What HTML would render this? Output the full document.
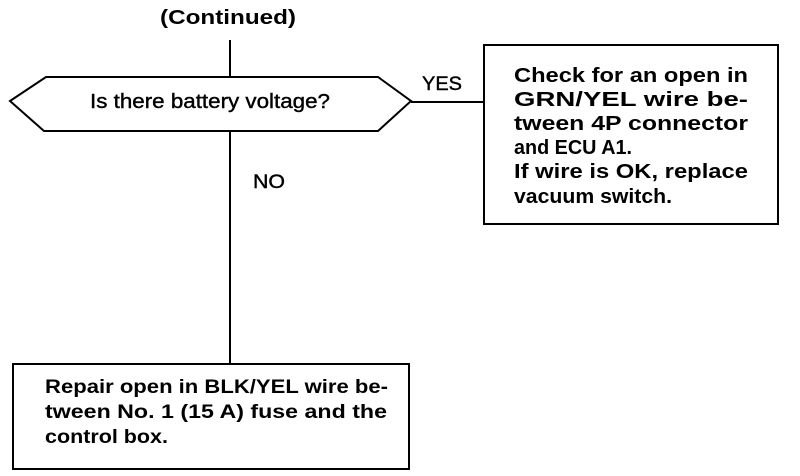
<!DOCTYPE html>
<html><head><style>
body{margin:0;background:#fff}
svg{display:block}
text{font-family:"Liberation Sans",Arial,sans-serif;font-weight:bold;fill:#000}
text.n{font-weight:normal}
</style></head><body>
<svg width="800" height="476" viewBox="0 0 800 476" xmlns="http://www.w3.org/2000/svg">
<g stroke="#000" stroke-width="2" fill="none">
<line x1="230" y1="40" x2="230" y2="77"/>
<line x1="230" y1="131" x2="230" y2="364"/>
<polygon points="10,101 46,77 378,77 411,101 378,131 44,131"/>
<line x1="411" y1="102" x2="484" y2="102"/>
<rect x="484" y="45" width="294" height="179"/>
<rect x="13" y="364" width="396" height="105"/>
</g>
<text x="160" y="24" font-size="20" textLength="136" lengthAdjust="spacingAndGlyphs">(Continued)</text>
<text class="n" x="90" y="108" font-size="20" textLength="240" lengthAdjust="spacingAndGlyphs" stroke="#000" stroke-width="0.4">Is there battery voltage?</text>
<text class="n" x="422" y="90" font-size="19" textLength="40" lengthAdjust="spacingAndGlyphs" stroke="#000" stroke-width="0.4">YES</text>
<text class="n" x="253" y="188" font-size="19" textLength="32" lengthAdjust="spacingAndGlyphs" stroke="#000" stroke-width="0.4">NO</text>
<g font-size="20">
<text x="514" y="82" textLength="234" lengthAdjust="spacingAndGlyphs">Check for an open in</text>
<text x="514" y="106" textLength="234" lengthAdjust="spacingAndGlyphs">GRN/YEL    wire    be-</text>
<text x="514" y="130" textLength="234" lengthAdjust="spacingAndGlyphs">tween   4P   connector</text>
<text x="514" y="154" textLength="118" lengthAdjust="spacingAndGlyphs">and ECU A1.</text>
<text x="514" y="178" textLength="234" lengthAdjust="spacingAndGlyphs">If wire is OK, replace</text>
<text x="514" y="203" textLength="158" lengthAdjust="spacingAndGlyphs">vacuum switch.</text>
</g>
<g font-size="19">
<text x="45" y="393" textLength="343" lengthAdjust="spacingAndGlyphs">Repair open in BLK/YEL wire be-</text>
<text x="45" y="418" textLength="342" lengthAdjust="spacingAndGlyphs">tween No. 1 (15 A) fuse and the</text>
<text x="45" y="443" textLength="123" lengthAdjust="spacingAndGlyphs">control box.</text>
</g>
</svg>
</body></html>
